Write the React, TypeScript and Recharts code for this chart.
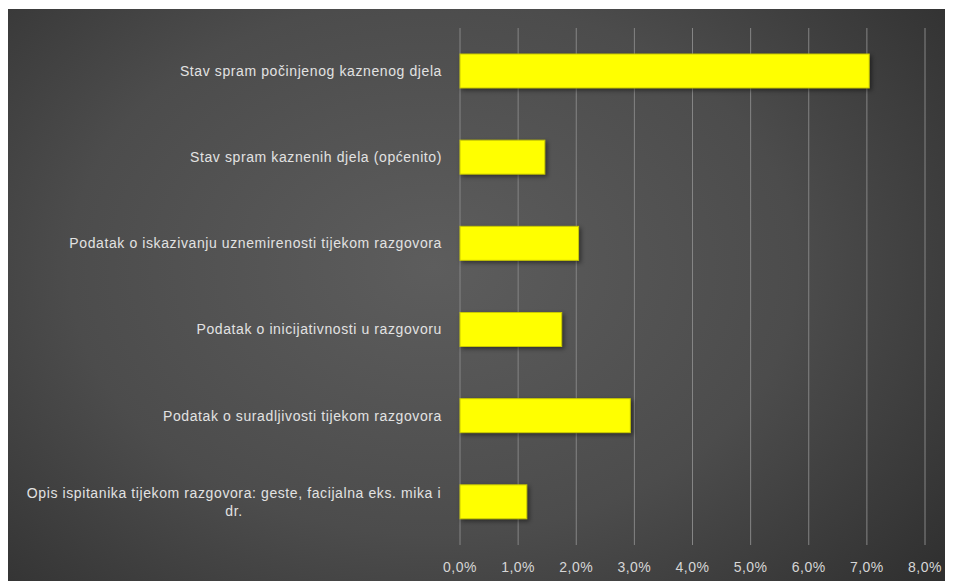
import React from 'react'
import { BarChart, Bar, XAxis, YAxis, CartesianGrid } from 'recharts'

const categories = [
  'Stav spram počinjenog kaznenog djela',
  'Stav spram kaznenih djela (općenito)',
  'Podatak o iskazivanju uznemirenosti tijekom razgovora',
  'Podatak o inicijativnosti u razgovoru',
  'Podatak o suradljivosti tijekom razgovora',
  'Opis ispitanika tijekom razgovora: geste, facijalna eks. mika  i|dr.',
]

const values = [7.04, 1.46, 2.04, 1.75, 2.93, 1.15]

const xTicks = [0, 1, 2, 3, 4, 5, 6, 7, 8]

const data = categories.map((name, i) => ({ name, value: values[i] }))

const FONT = '"Liberation Sans", Arial, sans-serif'
const CHAR_W = 6.5

const formatPct = (v: number) => `${v.toFixed(1).replace('.', ',')}%`

const CategoryTick = (props: any) => {
  const { x, y, payload } = props
  const lines: string[] = String(payload.value).split('|')
  const common = { fill: '#e2e2e2', fontSize: 14, fontFamily: FONT, letterSpacing: 0.6 }
  if (lines.length === 1) {
    return (
      <text x={x - 10} y={y} dy="0.35em" textAnchor="end" {...common}>
        {lines[0]}
      </text>
    )
  }
  const half = (lines[0].length * CHAR_W) / 2
  return (
    <g>
      {lines.map((line, i) => (
        <text
          key={i}
          x={x - 10 - half}
          y={y + (i - (lines.length - 1) / 2) * 18}
          dy="0.35em"
          textAnchor="middle"
          {...common}
        >
          {line}
        </text>
      ))}
    </g>
  )
}

const ValueTick = (props: any) => {
  const { x, y, payload } = props
  return (
    <text
      x={x}
      y={y + 14}
      dy="0.35em"
      textAnchor="middle"
      fill="#d6d6d6"
      fontSize={14}
      fontFamily={FONT}
      letterSpacing={0.5}
    >
      {formatPct(payload.value)}
    </text>
  )
}

const BarShape = (props: any) => {
  const { x, y, width, height } = props
  return (
    <rect
      x={x}
      y={y}
      width={width}
      height={height}
      fill="#ffff00"
      stroke="#c9c900"
      strokeWidth={1}
      style={{ filter: 'drop-shadow(2px 2px 2px rgba(0,0,0,0.45))' }}
    />
  )
}

export default function App() {
  return (
    <div
      style={{
        width: 945,
        height: 573,
        marginTop: 1,
        background:
          'radial-gradient(ellipse 70% 85% at 45% 45%, #5d5d5d 0%, #4c4c4c 55%, #2f2f2f 100%)',
      }}
    >
      <BarChart
        width={945}
        height={573}
        data={data}
        layout="vertical"
        margin={{ top: 19, right: 28, bottom: 0, left: 0 }}
        barSize={34}
      >
        <CartesianGrid horizontal={false} stroke="#858585" strokeWidth={1} />
        <XAxis
          type="number"
          domain={[0, 8]}
          ticks={xTicks}
          height={37}
          axisLine={false}
          tickLine={false}
          tick={<ValueTick />}
          interval={0}
        />
        <YAxis
          type="category"
          dataKey="name"
          width={452}
          axisLine={false}
          tickLine={false}
          tick={<CategoryTick />}
          interval={0}
        />
        <Bar dataKey="value" shape={<BarShape />} isAnimationActive={false} />
      </BarChart>
    </div>
  )
}
